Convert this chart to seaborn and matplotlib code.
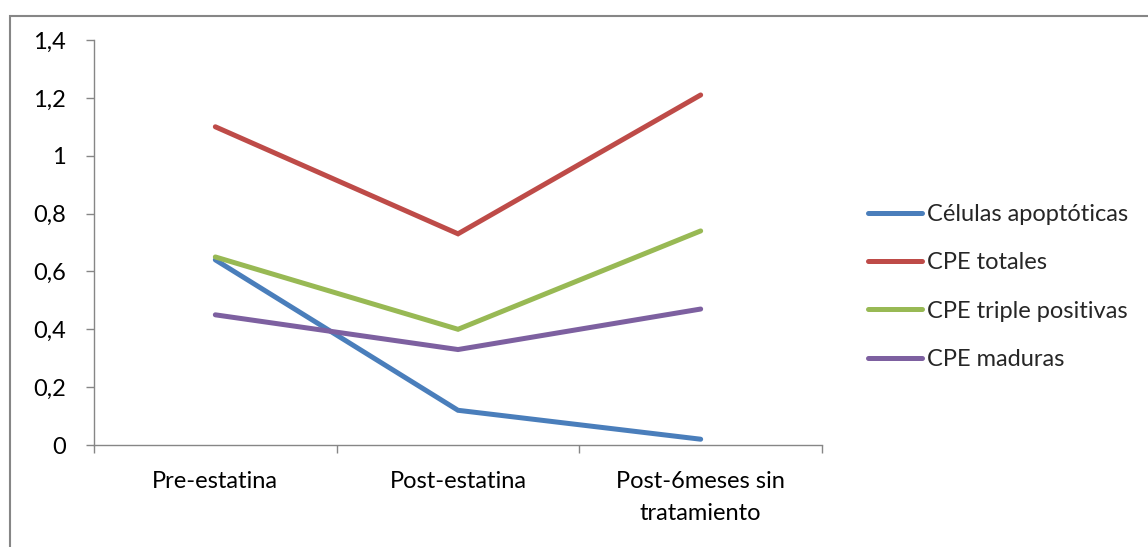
import matplotlib
matplotlib.use("Agg")
import matplotlib.pyplot as plt
import seaborn as sns
import pandas as pd
from matplotlib.patches import Rectangle

# Data
categories = ["Pre-estatina", "Post-estatina", "Post-6meses sin\ntratamiento"]
series_names = ["Células apoptóticas", "CPE totales", "CPE triple positivas", "CPE maduras"]
celulas_apoptoticas = [0.64, 0.12, 0.02]
cpe_totales = [1.10, 0.73, 1.21]
cpe_triple_positivas = [0.65, 0.40, 0.74]
cpe_maduras = [0.45, 0.33, 0.47]
y_ticks = [0, 0.2, 0.4, 0.6, 0.8, 1.0, 1.2, 1.4]
y_tick_labels = ["0", "0,2", "0,4", "0,6", "0,8", "1", "1,2", "1,4"]

colors = ["#4A7EBB", "#BE4B48", "#98B954", "#7D60A0"]

rows = []
for name, vals in zip(series_names,
                      [celulas_apoptoticas, cpe_totales, cpe_triple_positivas, cpe_maduras]):
    for i, v in enumerate(vals):
        rows.append({"pos": i, "serie": name, "valor": v})
df = pd.DataFrame(rows)

sns.set_style("white")
plt.rcParams["font.family"] = ["Lato", "DejaVu Sans"]

FS = 17
W, H = 1148, 547
fig = plt.figure(figsize=(W / 100, H / 100), dpi=100)
ax = fig.add_axes([94 / W, 1 - 445 / H, (822 - 94) / W, (445 - 40) / H])

sns.lineplot(data=df, x="pos", y="valor", hue="serie", hue_order=series_names,
             palette=colors, linewidth=3.6, ax=ax, legend=True,
             solid_capstyle="round", solid_joinstyle="miter")

ax.set_xlim(-0.5, 2.5)
ax.set_ylim(0, 1.4)
ax.set_xlabel("")
ax.set_ylabel("")

grey = "#868686"
for side in ["top", "right"]:
    ax.spines[side].set_visible(False)
for side in ["left", "bottom"]:
    ax.spines[side].set_color(grey)
    ax.spines[side].set_linewidth(1.0)

ax.set_yticks(y_ticks)
ax.set_yticklabels(y_tick_labels)
ax.tick_params(axis="y", direction="out", length=6, width=1, color=grey,
               labelsize=FS, labelcolor="black", pad=14, left=True)

# category boundaries carry the tick marks, centres carry the labels
ax.set_xticks([-0.5, 0.5, 1.5, 2.5])
ax.set_xticklabels([])
ax.tick_params(axis="x", which="major", direction="out", length=6, width=1,
               color=grey, bottom=True)
ax.set_xticks([0, 1, 2], minor=True)
ax.set_xticklabels(categories, minor=True, fontsize=FS, color="black",
                   linespacing=1.65)
ax.tick_params(axis="x", which="minor", length=0, pad=18.5)

leg = ax.legend(loc="center left", bbox_to_anchor=(868 / W, 1 - 287 / H),
                bbox_transform=fig.transFigure, frameon=False, fontsize=FS,
                handlelength=2.3, handletextpad=0.2, labelspacing=1.16,
                borderpad=0, borderaxespad=0)
for line in leg.get_lines():
    line.set_linewidth(3.6)
    line.set_solid_capstyle("round")

# chart area frame
fig.patches.append(Rectangle((9.5 / W, 0 - 0.1), 1.2, 1 - 15.5 / H + 0.1,
                             transform=fig.transFigure, fill=False,
                             edgecolor=grey, linewidth=1.5, clip_on=False))

fig.savefig("out.png", dpi=100, facecolor="white")
